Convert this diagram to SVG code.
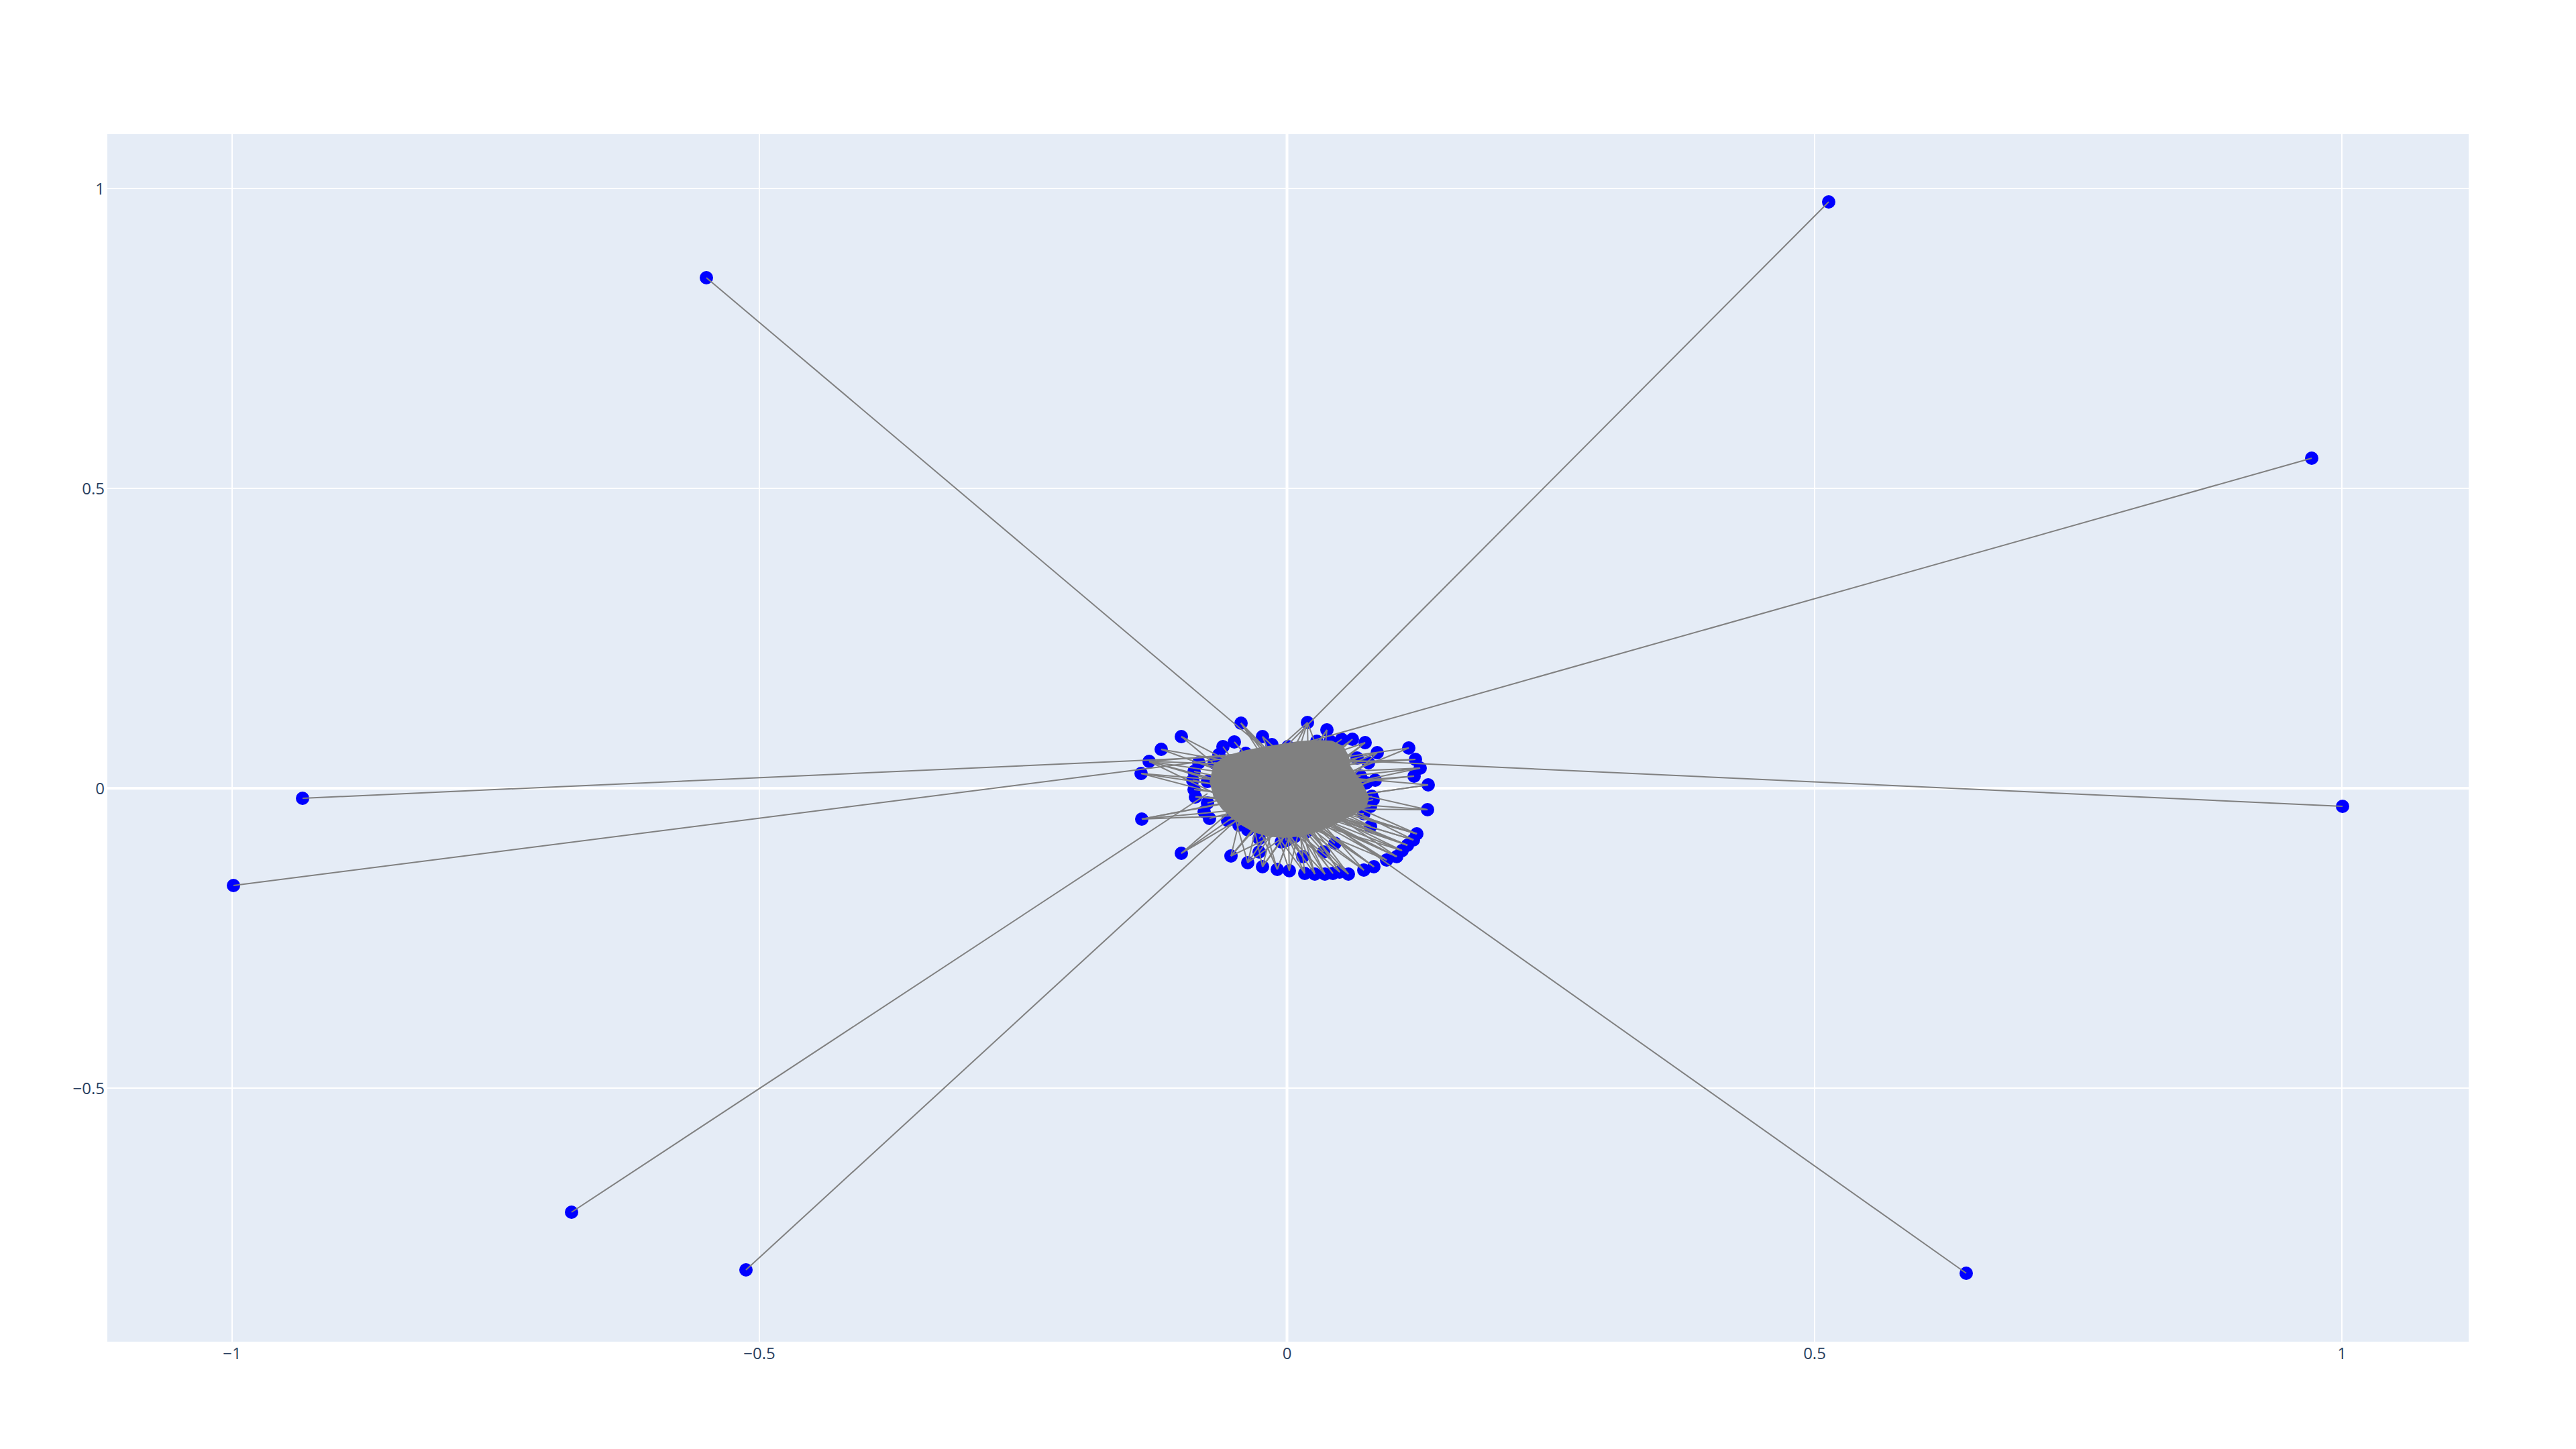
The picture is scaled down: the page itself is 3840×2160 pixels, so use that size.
<svg xmlns="http://www.w3.org/2000/svg" width="3840" height="2160" viewBox="0 0 3840 2160">
<style>
.paper{fill:#ffffff}
.bg{fill:#E5ECF6}
.grid{stroke:#ffffff;stroke-width:2}
.zero{stroke:#ffffff;stroke-width:4}
.tick{font-family:"Open Sans","Liberation Sans",sans-serif;font-size:24px;fill:#2a3f5f}
.xt{text-anchor:middle}
.yt{text-anchor:end}
#edges line{stroke:#808080;stroke-width:2}
#edges .core{fill:#808080;stroke:#808080;stroke-width:2}
.node circle{fill:#0000ff}
</style>
<rect class="paper" x="0" y="0" width="3840" height="2160"/>
<rect class="bg" x="160" y="200" width="3520" height="1800"/>
<g id="grid">
<line class="grid" x1="346" y1="200" x2="346" y2="2000"/>
<line class="grid" x1="1132" y1="200" x2="1132" y2="2000"/>
<line class="grid" x1="2705" y1="200" x2="2705" y2="2000"/>
<line class="grid" x1="3491" y1="200" x2="3491" y2="2000"/>
<line class="grid" x1="160" y1="281" x2="3680" y2="281"/>
<line class="grid" x1="160" y1="728" x2="3680" y2="728"/>
<line class="grid" x1="160" y1="1622" x2="3680" y2="1622"/>
<line class="zero" x1="1918.5" y1="200" x2="1918.5" y2="2000"/>
<line class="zero" x1="160" y1="1175" x2="3680" y2="1175"/>
</g>
<g id="ticks">
<text class="tick xt" x="346" y="2026">−1</text>
<text class="tick xt" x="1132" y="2026">−0.5</text>
<text class="tick xt" x="1918.5" y="2026">0</text>
<text class="tick xt" x="2705" y="2026">0.5</text>
<text class="tick xt" x="3491" y="2026">1</text>
<text class="tick yt" x="156" y="289.5">1</text>
<text class="tick yt" x="156" y="736.5">0.5</text>
<text class="tick yt" x="156" y="1183.5">0</text>
<text class="tick yt" x="156" y="1630.5">−0.5</text>
</g>
<g id="nodes">
<g id="o1" class="node"><circle cx="1053" cy="414" r="10"/></g>
<g id="o2" class="node"><circle cx="2726" cy="301" r="10"/></g>
<g id="o3" class="node"><circle cx="3446" cy="683" r="10"/></g>
<g id="o4" class="node"><circle cx="451" cy="1190" r="10"/></g>
<g id="o5" class="node"><circle cx="348" cy="1320" r="10"/></g>
<g id="o6" class="node"><circle cx="3492" cy="1202" r="10"/></g>
<g id="o7" class="node"><circle cx="852" cy="1807" r="10"/></g>
<g id="o8" class="node"><circle cx="1112" cy="1893" r="10"/></g>
<g id="o9" class="node"><circle cx="2931" cy="1898" r="10"/></g>
<g id="c1" class="node"><circle cx="1850" cy="1078" r="10"/></g>
<g id="c2" class="node"><circle cx="1761" cy="1098" r="10"/></g>
<g id="c3" class="node"><circle cx="1731" cy="1117" r="10"/></g>
<g id="c4" class="node"><circle cx="1713" cy="1135" r="10"/></g>
<g id="c5" class="node"><circle cx="1701" cy="1153" r="10"/></g>
<g id="c6" class="node"><circle cx="1823" cy="1113" r="10"/></g>
<g id="c7" class="node"><circle cx="1840" cy="1106" r="10"/></g>
<g id="c8" class="node"><circle cx="1882" cy="1098" r="10"/></g>
<g id="c9" class="node"><circle cx="1896" cy="1110" r="10"/></g>
<g id="c10" class="node"><circle cx="1857" cy="1123" r="10"/></g>
<g id="c11" class="node"><circle cx="1817" cy="1125" r="10"/></g>
<g id="c12" class="node"><circle cx="1787" cy="1137" r="10"/></g>
<g id="c13" class="node"><circle cx="1780" cy="1150" r="10"/></g>
<g id="c14" class="node"><circle cx="1778" cy="1163" r="10"/></g>
<g id="c15" class="node"><circle cx="1780" cy="1177" r="10"/></g>
<g id="c16" class="node"><circle cx="1810" cy="1137" r="10"/></g>
<g id="c17" class="node"><circle cx="1949" cy="1077" r="10"/></g>
<g id="c18" class="node"><circle cx="1978" cy="1088" r="10"/></g>
<g id="c19" class="node"><circle cx="1983" cy="1105" r="10"/></g>
<g id="c20" class="node"><circle cx="2000" cy="1102" r="10"/></g>
<g id="c21" class="node"><circle cx="2016" cy="1102" r="10"/></g>
<g id="c22" class="node"><circle cx="2035" cy="1107" r="10"/></g>
<g id="c23" class="node"><circle cx="2053" cy="1122" r="10"/></g>
<g id="c24" class="node"><circle cx="2100" cy="1115" r="10"/></g>
<g id="c25" class="node"><circle cx="2110" cy="1132" r="10"/></g>
<g id="c26" class="node"><circle cx="2117" cy="1145" r="10"/></g>
<g id="c27" class="node"><circle cx="2108" cy="1157" r="10"/></g>
<g id="c28" class="node"><circle cx="2129" cy="1170" r="10"/></g>
<g id="c29" class="node"><circle cx="2023" cy="1130" r="10"/></g>
<g id="c30" class="node"><circle cx="2040" cy="1137" r="10"/></g>
<g id="c31" class="node"><circle cx="2028" cy="1157" r="10"/></g>
<g id="c32" class="node"><circle cx="2050" cy="1163" r="10"/></g>
<g id="c33" class="node"><circle cx="2037" cy="1167" r="10"/></g>
<g id="c34" class="node"><circle cx="2020" cy="1183" r="10"/></g>
<g id="c35" class="node"><circle cx="2045" cy="1187" r="10"/></g>
<g id="c36" class="node"><circle cx="1920" cy="1113" r="10"/></g>
<g id="c37" class="node"><circle cx="1963" cy="1105" r="10"/></g>
<g id="c38" class="node"><circle cx="1702" cy="1221" r="10"/></g>
<g id="c39" class="node"><circle cx="1761" cy="1272" r="10"/></g>
<g id="c40" class="node"><circle cx="1835" cy="1276" r="10"/></g>
<g id="c41" class="node"><circle cx="1860" cy="1286" r="10"/></g>
<g id="c42" class="node"><circle cx="1882" cy="1292" r="10"/></g>
<g id="c43" class="node"><circle cx="1904" cy="1296" r="10"/></g>
<g id="c44" class="node"><circle cx="1782" cy="1188" r="10"/></g>
<g id="c45" class="node"><circle cx="1803" cy="1220" r="10"/></g>
<g id="c46" class="node"><circle cx="1800" cy="1197" r="10"/></g>
<g id="c47" class="node"><circle cx="1830" cy="1223" r="10"/></g>
<g id="c48" class="node"><circle cx="1847" cy="1230" r="10"/></g>
<g id="c49" class="node"><circle cx="1860" cy="1237" r="10"/></g>
<g id="c50" class="node"><circle cx="1877" cy="1250" r="10"/></g>
<g id="c51" class="node"><circle cx="1877" cy="1270" r="10"/></g>
<g id="c52" class="node"><circle cx="1910" cy="1255" r="10"/></g>
<g id="c53" class="node"><circle cx="1922" cy="1298" r="10"/></g>
<g id="c54" class="node"><circle cx="2128" cy="1207" r="10"/></g>
<g id="c55" class="node"><circle cx="2112" cy="1243" r="10"/></g>
<g id="c56" class="node"><circle cx="2107" cy="1252" r="10"/></g>
<g id="c57" class="node"><circle cx="2098" cy="1260" r="10"/></g>
<g id="c58" class="node"><circle cx="2090" cy="1268" r="10"/></g>
<g id="c59" class="node"><circle cx="2082" cy="1277" r="10"/></g>
<g id="c60" class="node"><circle cx="2067" cy="1282" r="10"/></g>
<g id="c61" class="node"><circle cx="2048" cy="1292" r="10"/></g>
<g id="c62" class="node"><circle cx="2033" cy="1297" r="10"/></g>
<g id="c63" class="node"><circle cx="2010" cy="1303" r="10"/></g>
<g id="c64" class="node"><circle cx="1997" cy="1300" r="10"/></g>
<g id="c65" class="node"><circle cx="1987" cy="1302" r="10"/></g>
<g id="c66" class="node"><circle cx="1975" cy="1303" r="10"/></g>
<g id="c67" class="node"><circle cx="1960" cy="1303" r="10"/></g>
<g id="c68" class="node"><circle cx="1945" cy="1302" r="10"/></g>
<g id="c69" class="node"><circle cx="1942" cy="1277" r="10"/></g>
<g id="c70" class="node"><circle cx="1973" cy="1270" r="10"/></g>
<g id="c71" class="node"><circle cx="2047" cy="1192" r="10"/></g>
<g id="c72" class="node"><circle cx="2043" cy="1202" r="10"/></g>
<g id="c73" class="node"><circle cx="2033" cy="1213" r="10"/></g>
<g id="c74" class="node"><circle cx="2043" cy="1232" r="10"/></g>
<g id="c75" class="node"><circle cx="1930" cy="1247" r="10"/></g>
<g id="c76" class="node"><circle cx="1947" cy="1240" r="10"/></g>
<g id="c77" class="node"><circle cx="1990" cy="1257" r="10"/></g>
<g id="c78" class="node"><circle cx="1917" cy="1253" r="10"/></g>
<g id="c79" class="node"><circle cx="1800" cy="1165" r="10"/></g>
<g id="c80" class="node"><circle cx="1795" cy="1210" r="10"/></g>
</g>
<g id="edges">
<path class="core" d="M1810,1140 L1830,1127 L1858,1119 L1885,1114 L1910,1110 L1935,1106 L1960,1104 L1985,1105 L2002,1113 L2010,1128 L2012,1142 L2022,1156 L2032,1172 L2040,1188 L2036,1203 L2020,1212 L2002,1222 L1982,1232 L1960,1240 L1938,1246 L1912,1248 L1890,1246 L1870,1240 L1852,1230 L1836,1218 L1822,1205 L1810,1188 L1804,1165 Z"/>
<line x1="1053" y1="414" x2="1895" y2="1125"/>
<line x1="2726" y1="301" x2="1890" y2="1140"/>
<line x1="3446" y1="683" x2="1900" y2="1120"/>
<line x1="451" y1="1190" x2="1890" y2="1125"/>
<line x1="348" y1="1320" x2="1880" y2="1124"/>
<line x1="3492" y1="1202" x2="2000" y2="1133"/>
<line x1="852" y1="1807" x2="1800" y2="1183"/>
<line x1="1112" y1="1893" x2="1840" y2="1225"/>
<line x1="2931" y1="1898" x2="1990" y2="1232"/>
<line x1="1701" y1="1153" x2="1880" y2="1200"/>
<line x1="1701" y1="1153" x2="1900" y2="1170"/>
<line x1="1701" y1="1153" x2="1950" y2="1190"/>
<line x1="1713" y1="1135" x2="1920" y2="1118"/>
<line x1="1713" y1="1135" x2="1860" y2="1140"/>
<line x1="1713" y1="1135" x2="1850" y2="1172"/>
<line x1="1713" y1="1135" x2="1830" y2="1192"/>
<line x1="1713" y1="1135" x2="1880" y2="1160"/>
<line x1="1713" y1="1135" x2="1900" y2="1190"/>
<line x1="1731" y1="1117" x2="1860" y2="1164"/>
<line x1="1731" y1="1117" x2="1920" y2="1150"/>
<line x1="1761" y1="1098" x2="1850" y2="1172"/>
<line x1="1761" y1="1098" x2="1900" y2="1170"/>
<line x1="1850" y1="1078" x2="1880" y2="1125"/>
<line x1="1850" y1="1078" x2="1900" y2="1135"/>
<line x1="1850" y1="1078" x2="1905" y2="1150"/>
<line x1="1850" y1="1078" x2="1950" y2="1180"/>
<line x1="1949" y1="1077" x2="1890" y2="1130"/>
<line x1="1949" y1="1077" x2="1935" y2="1122"/>
<line x1="1949" y1="1077" x2="1950" y2="1130"/>
<line x1="1949" y1="1077" x2="1900" y2="1170"/>
<line x1="1949" y1="1077" x2="1980" y2="1160"/>
<line x1="1978" y1="1088" x2="1975" y2="1118"/>
<line x1="1978" y1="1088" x2="1940" y2="1140"/>
<line x1="1978" y1="1088" x2="1920" y2="1180"/>
<line x1="1882" y1="1098" x2="1900" y2="1140"/>
<line x1="1882" y1="1098" x2="1960" y2="1170"/>
<line x1="1896" y1="1110" x2="1912" y2="1150"/>
<line x1="1840" y1="1106" x2="1870" y2="1140"/>
<line x1="1823" y1="1113" x2="1850" y2="1150"/>
<line x1="1857" y1="1123" x2="1880" y2="1150"/>
<line x1="1817" y1="1125" x2="1860" y2="1160"/>
<line x1="1787" y1="1137" x2="1840" y2="1150"/>
<line x1="1780" y1="1150" x2="1850" y2="1165"/>
<line x1="1778" y1="1163" x2="1840" y2="1175"/>
<line x1="1780" y1="1177" x2="1845" y2="1185"/>
<line x1="1782" y1="1188" x2="1850" y2="1190"/>
<line x1="1782" y1="1188" x2="1920" y2="1200"/>
<line x1="1800" y1="1197" x2="1950" y2="1160"/>
<line x1="1810" y1="1137" x2="1880" y2="1145"/>
<line x1="1920" y1="1113" x2="1930" y2="1150"/>
<line x1="1963" y1="1105" x2="1950" y2="1140"/>
<line x1="1983" y1="1105" x2="1990" y2="1130"/>
<line x1="2000" y1="1102" x2="1960" y2="1130"/>
<line x1="2016" y1="1102" x2="1980" y2="1135"/>
<line x1="2016" y1="1102" x2="1920" y2="1170"/>
<line x1="2035" y1="1107" x2="1990" y2="1140"/>
<line x1="2035" y1="1107" x2="1970" y2="1160"/>
<line x1="2035" y1="1107" x2="1880" y2="1160"/>
<line x1="2053" y1="1122" x2="1990" y2="1150"/>
<line x1="2053" y1="1122" x2="2000" y2="1172"/>
<line x1="2053" y1="1122" x2="1900" y2="1160"/>
<line x1="2100" y1="1115" x2="1990" y2="1160"/>
<line x1="2100" y1="1115" x2="1920" y2="1140"/>
<line x1="2110" y1="1132" x2="1980" y2="1142"/>
<line x1="2110" y1="1132" x2="1900" y2="1140"/>
<line x1="2117" y1="1145" x2="2000" y2="1150"/>
<line x1="2117" y1="1145" x2="1990" y2="1172"/>
<line x1="2117" y1="1145" x2="1900" y2="1170"/>
<line x1="2108" y1="1157" x2="2000" y2="1165"/>
<line x1="2108" y1="1157" x2="1880" y2="1180"/>
<line x1="2129" y1="1170" x2="1990" y2="1190"/>
<line x1="2129" y1="1170" x2="1900" y2="1150"/>
<line x1="2129" y1="1170" x2="1920" y2="1200"/>
<line x1="2023" y1="1130" x2="1985" y2="1150"/>
<line x1="2040" y1="1137" x2="1990" y2="1165"/>
<line x1="2028" y1="1157" x2="1985" y2="1170"/>
<line x1="2050" y1="1163" x2="1995" y2="1178"/>
<line x1="2037" y1="1167" x2="1990" y2="1185"/>
<line x1="2020" y1="1183" x2="1975" y2="1190"/>
<line x1="2045" y1="1187" x2="1990" y2="1198"/>
<line x1="2128" y1="1207" x2="2000" y2="1206"/>
<line x1="2128" y1="1207" x2="1920" y2="1160"/>
<line x1="2128" y1="1207" x2="1900" y2="1190"/>
<line x1="2047" y1="1192" x2="1995" y2="1203"/>
<line x1="2043" y1="1202" x2="1985" y2="1210"/>
<line x1="2033" y1="1213" x2="1975" y2="1215"/>
<line x1="2112" y1="1243" x2="1960" y2="1200"/>
<line x1="2112" y1="1243" x2="1935" y2="1188"/>
<line x1="2112" y1="1243" x2="1880" y2="1170"/>
<line x1="2112" y1="1243" x2="1900" y2="1150"/>
<line x1="2107" y1="1252" x2="1950" y2="1205"/>
<line x1="2107" y1="1252" x2="1870" y2="1180"/>
<line x1="2107" y1="1252" x2="1920" y2="1160"/>
<line x1="2098" y1="1260" x2="1940" y2="1198"/>
<line x1="2098" y1="1260" x2="1970" y2="1212"/>
<line x1="2098" y1="1260" x2="1890" y2="1190"/>
<line x1="2098" y1="1260" x2="1860" y2="1160"/>
<line x1="2090" y1="1268" x2="1945" y2="1210"/>
<line x1="2090" y1="1268" x2="1900" y2="1175"/>
<line x1="2090" y1="1268" x2="1870" y2="1200"/>
<line x1="2082" y1="1277" x2="1930" y2="1200"/>
<line x1="2082" y1="1277" x2="1960" y2="1218"/>
<line x1="2082" y1="1277" x2="1880" y2="1185"/>
<line x1="2082" y1="1277" x2="1910" y2="1160"/>
<line x1="2067" y1="1282" x2="1935" y2="1208"/>
<line x1="2067" y1="1282" x2="1890" y2="1170"/>
<line x1="2067" y1="1282" x2="1860" y2="1195"/>
<line x1="2048" y1="1292" x2="1925" y2="1205"/>
<line x1="2048" y1="1292" x2="1952" y2="1220"/>
<line x1="2048" y1="1292" x2="1900" y2="1180"/>
<line x1="2048" y1="1292" x2="1870" y2="1170"/>
<line x1="2033" y1="1297" x2="1930" y2="1215"/>
<line x1="2033" y1="1297" x2="1880" y2="1190"/>
<line x1="2033" y1="1297" x2="1920" y2="1170"/>
<line x1="2010" y1="1303" x2="1940" y2="1210"/>
<line x1="2010" y1="1303" x2="1890" y2="1175"/>
<line x1="2010" y1="1303" x2="1860" y2="1180"/>
<line x1="1997" y1="1300" x2="1945" y2="1220"/>
<line x1="1997" y1="1300" x2="1900" y2="1160"/>
<line x1="1997" y1="1300" x2="1870" y2="1190"/>
<line x1="1987" y1="1302" x2="1915" y2="1205"/>
<line x1="1987" y1="1302" x2="1880" y2="1165"/>
<line x1="1975" y1="1303" x2="1935" y2="1220"/>
<line x1="1975" y1="1303" x2="1900" y2="1180"/>
<line x1="1975" y1="1303" x2="1850" y2="1170"/>
<line x1="1960" y1="1303" x2="1925" y2="1215"/>
<line x1="1960" y1="1303" x2="1880" y2="1190"/>
<line x1="1960" y1="1303" x2="1920" y2="1160"/>
<line x1="1945" y1="1302" x2="1935" y2="1215"/>
<line x1="1945" y1="1302" x2="1900" y2="1205"/>
<line x1="1945" y1="1302" x2="1860" y2="1185"/>
<line x1="1922" y1="1298" x2="1920" y2="1215"/>
<line x1="1922" y1="1298" x2="1880" y2="1170"/>
<line x1="1922" y1="1298" x2="1950" y2="1180"/>
<line x1="1942" y1="1277" x2="1890" y2="1210"/>
<line x1="1942" y1="1277" x2="1910" y2="1222"/>
<line x1="1973" y1="1270" x2="1920" y2="1210"/>
<line x1="1990" y1="1257" x2="1940" y2="1215"/>
<line x1="1904" y1="1296" x2="1930" y2="1225"/>
<line x1="1904" y1="1296" x2="1880" y2="1215"/>
<line x1="1904" y1="1296" x2="1850" y2="1175"/>
<line x1="1904" y1="1296" x2="1950" y2="1170"/>
<line x1="1882" y1="1292" x2="1900" y2="1222"/>
<line x1="1882" y1="1292" x2="1920" y2="1240"/>
<line x1="1882" y1="1292" x2="1960" y2="1180"/>
<line x1="1882" y1="1292" x2="1860" y2="1190"/>
<line x1="1860" y1="1286" x2="1875" y2="1222"/>
<line x1="1860" y1="1286" x2="1910" y2="1250"/>
<line x1="1860" y1="1286" x2="1940" y2="1170"/>
<line x1="1860" y1="1286" x2="1830" y2="1180"/>
<line x1="1835" y1="1276" x2="1867" y2="1237"/>
<line x1="1835" y1="1276" x2="1900" y2="1245"/>
<line x1="1835" y1="1276" x2="1920" y2="1180"/>
<line x1="1835" y1="1276" x2="1860" y2="1170"/>
<line x1="1761" y1="1272" x2="1850" y2="1210"/>
<line x1="1761" y1="1272" x2="1900" y2="1190"/>
<line x1="1761" y1="1272" x2="1880" y2="1170"/>
<line x1="1702" y1="1221" x2="1870" y2="1205"/>
<line x1="1702" y1="1221" x2="1890" y2="1214"/>
<line x1="1702" y1="1221" x2="1920" y2="1180"/>
<line x1="1702" y1="1221" x2="1860" y2="1190"/>
<line x1="1803" y1="1220" x2="1860" y2="1205"/>
<line x1="1830" y1="1223" x2="1870" y2="1212"/>
<line x1="1847" y1="1230" x2="1880" y2="1215"/>
<line x1="1877" y1="1250" x2="1900" y2="1225"/>
<line x1="1877" y1="1270" x2="1905" y2="1230"/>
<line x1="1910" y1="1255" x2="1925" y2="1225"/>
<line x1="2043" y1="1232" x2="1980" y2="1215"/>
<line x1="2043" y1="1232" x2="1900" y2="1160"/>
<line x1="2043" y1="1232" x2="1930" y2="1190"/>
<line x1="1930" y1="1247" x2="1935" y2="1225"/>
<line x1="1947" y1="1240" x2="1950" y2="1220"/>
<line x1="1917" y1="1253" x2="1915" y2="1225"/>
</g>
</svg>
